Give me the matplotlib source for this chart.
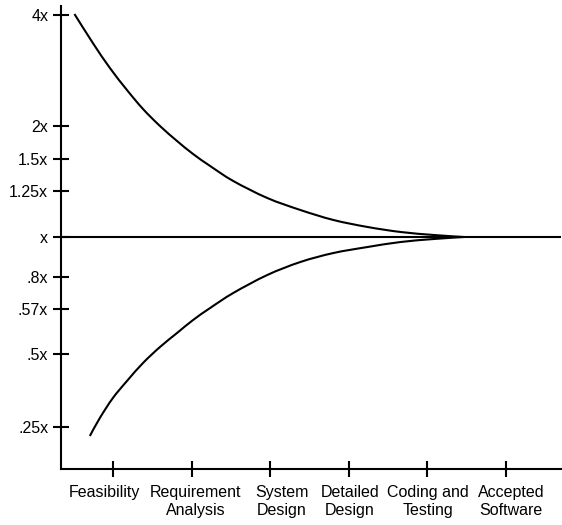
import matplotlib
matplotlib.use("Agg")
import matplotlib.pyplot as plt
from matplotlib.path import Path
from matplotlib.patches import PathPatch
from matplotlib.transforms import ScaledTranslation

plt.rcParams['font.family'] = ['Liberation Sans', 'DejaVu Sans']

phases = ["Feasibility", "Requirement\nAnalysis", "System\nDesign",
          "Detailed\nDesign", "Coding and\nTesting", "Accepted\nSoftware"]
phase_pos = [1, 2, 3, 4, 5, 6]

y_labels = ["4x", "2x", "1.5x", "1.25x", "x", ".8x", ".57x", ".5x", ".25x"]
y_pos = [222, 111, 78, 46, 0, -40, -72, -117, -190]

upper_x = [0.511, 0.745, 0.962, 1.179, 1.383, 1.599, 1.816, 2.020, 2.237,
           2.531, 2.964, 3.385, 3.806, 4.240, 4.661, 5.082, 5.464]
upper_y = [223, 194, 169, 147, 128, 111, 96, 83, 71,
           56, 39, 27, 17, 10, 5, 2, 0]

lower_x = [0.707, 0.834, 1.0, 1.179, 1.383, 1.599, 1.816, 2.020, 2.237,
           2.531, 2.964, 3.385, 3.806, 4.240, 4.661, 5.082, 5.464]
lower_y = [-199, -181, -161, -144, -126, -110, -96, -83, -71,
           -56, -38, -25, -16, -10, -5, -2, 0]


def smooth_path(xs, ys):
    pts = list(zip(xs, ys))
    n = len(pts)
    verts = [pts[0]]
    codes = [Path.MOVETO]
    for i in range(n - 1):
        p0 = pts[max(i - 1, 0)]
        p1 = pts[i]
        p2 = pts[i + 1]
        p3 = pts[min(i + 2, n - 1)]
        c1 = (p1[0] + (p2[0] - p0[0]) / 6, p1[1] + (p2[1] - p0[1]) / 6)
        c2 = (p2[0] - (p3[0] - p1[0]) / 6, p2[1] - (p3[1] - p1[1]) / 6)
        verts += [c1, c2, p2]
        codes += [Path.CURVE4] * 3
    return Path(verts, codes)


fig = plt.figure(figsize=(5.62, 5.25), dpi=100)
W, H = 562, 525
ax = fig.add_axes([61 / W, (H - 469) / H, (561 - 61) / W, (469 - 6) / H])

for xs, ys in [(upper_x, upper_y), (lower_x, lower_y)]:
    ax.add_patch(PathPatch(smooth_path(xs, ys), facecolor='none',
                           edgecolor='black', lw=1.5, capstyle='butt'))
ax.axhline(0, color='black', lw=1.5)

ax.set_xlim(0.34, 6.70)
ax.set_ylim(-232, 231)

for s in ['top', 'right']:
    ax.spines[s].set_visible(False)
for s in ['left', 'bottom']:
    ax.spines[s].set_linewidth(1.5)

ax.set_xticks(phase_pos)
ax.set_xticklabels(phases, fontsize=11.5, linespacing=1.2)
ax.set_yticks(y_pos)
ax.set_yticklabels(y_labels, fontsize=11.5)
ax.tick_params(axis='both', direction='inout', length=11.5, width=1.5, colors='black')
ax.tick_params(axis='x', pad=6)
ax.tick_params(axis='y', pad=3.5)

# horizontal nudges of the phase labels (pixels), as in the reference layout
label_shift_px = [-8, 4, 12, 1, 1, 5]
for lab, dx in zip(ax.get_xticklabels(), label_shift_px):
    lab.set_transform(lab.get_transform() +
                      ScaledTranslation(dx / fig.dpi, 0, fig.dpi_scale_trans))

fig.savefig("out.png", dpi=100)
